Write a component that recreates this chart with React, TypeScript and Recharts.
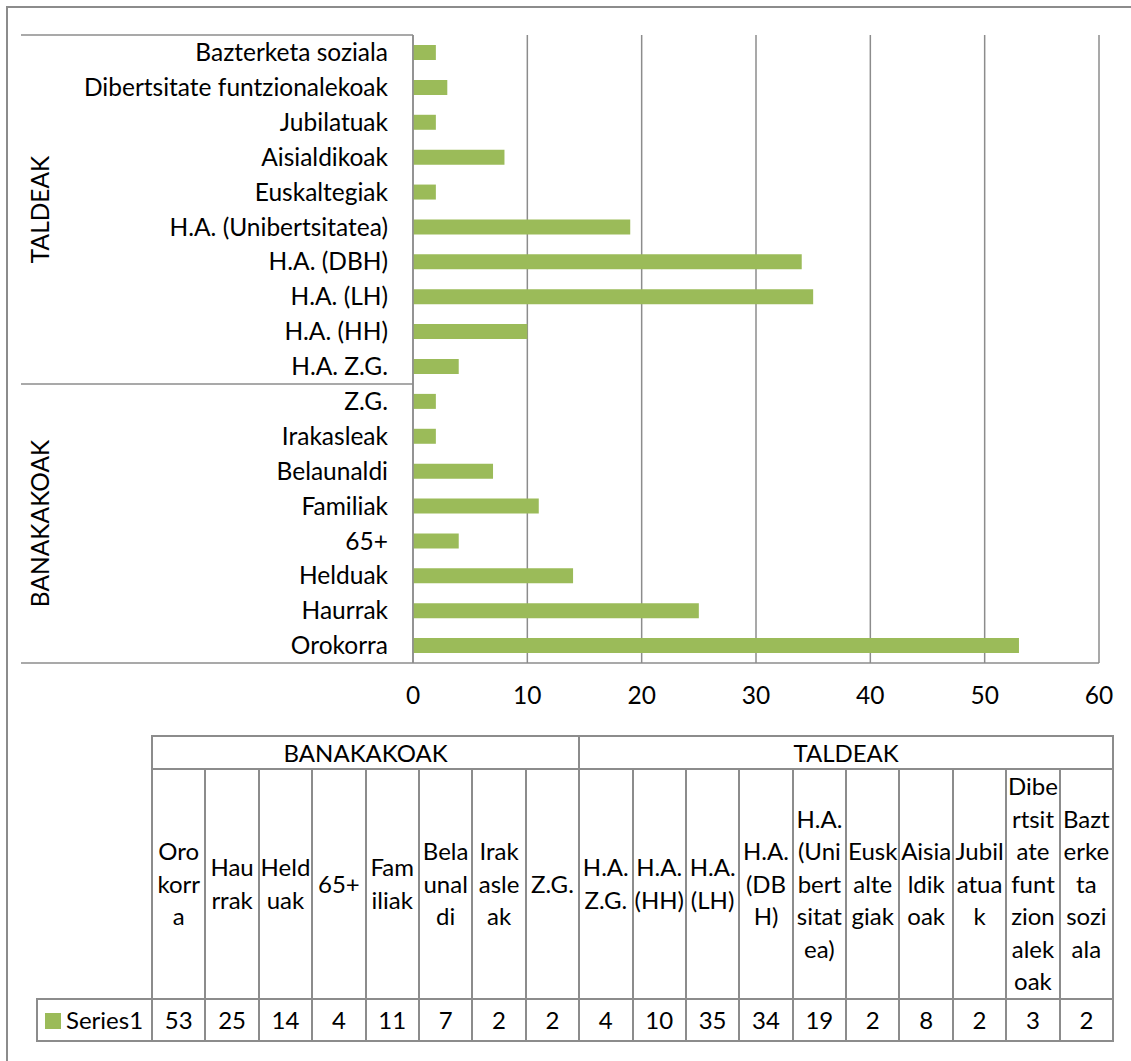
import { BarChart, Bar, XAxis, YAxis, CartesianGrid } from 'recharts'

const categories = [
  'Orokorra',
  'Haurrak',
  'Helduak',
  '65+',
  'Familiak',
  'Belaunaldi',
  'Irakasleak',
  'Z.G.',
  'H.A. Z.G.',
  'H.A. (HH)',
  'H.A. (LH)',
  'H.A. (DBH)',
  'H.A. (Unibertsitatea)',
  'Euskaltegiak',
  'Aisialdikoak',
  'Jubilatuak',
  'Dibertsitate funtzionalekoak',
  'Bazterketa soziala',
]
const values = [53, 25, 14, 4, 11, 7, 2, 2, 4, 10, 35, 34, 19, 2, 8, 2, 3, 2]

const groups = ['BANAKAKOAK', 'TALDEAK']
const groupSizes = [8, 10]

// wrapped header text of the data table, as it reads in the cells
const tableLabels = [
  ['Oro', 'korr', 'a'],
  ['Hau', 'rrak'],
  ['Held', 'uak'],
  ['65+'],
  ['Fam', 'iliak'],
  ['Bela', 'unal', 'di'],
  ['Irak', 'asle', 'ak'],
  ['Z.G.'],
  ['H.A.', 'Z.G.'],
  ['H.A.', '(HH)'],
  ['H.A.', '(LH)'],
  ['H.A.', '(DB', 'H)'],
  ['H.A.', '(Uni', 'bert', 'sitat', 'ea)'],
  ['Eusk', 'alte', 'giak'],
  ['Aisia', 'ldik', 'oak'],
  ['Jubil', 'atua', 'k'],
  ['Dibe', 'rtsit', 'ate', 'funt', 'zion', 'alek', 'oak'],
  ['Bazt', 'erke', 'ta', 'sozi', 'ala'],
]

const xTicks = [0, 10, 20, 30, 40, 50, 60]
const seriesName = 'Series1'

const data = categories.map((name, i) => ({ name, value: values[i] }))

const FONT = 'Lato, "Open Sans", sans-serif'
const GREEN = '#9BBB59'
const LINE = '#8C8C8C'
const AXIS_FS = 24.5
const TABLE_FS = 24

// plot geometry
const plotTop = 35
const plotBottom = 663
const plotLeft = 413
const plotRight = 1099
const chartH = 720
const band = (plotBottom - plotTop) / categories.length

const colW = 53.4
const tableLeft = 151

export default function App() {
  // group boundary, counted from the top (the axis is reversed)
  const sepY = plotTop + groupSizes[1] * band

  return (
    <div
      style={{
        position: 'absolute',
        left: 0,
        top: 0,
        width: 1131,
        height: 1061,
        overflow: 'hidden',
        background: '#fff',
        fontFamily: FONT,
      }}
    >
      <div
        style={{
          position: 'absolute',
          left: 6,
          top: 6,
          width: 1125,
          height: 1055,
          borderLeft: `2px solid ${LINE}`,
          borderTop: `2px solid ${LINE}`,
          boxSizing: 'border-box',
        }}
      />

      <div style={{ position: 'absolute', left: 0, top: 0 }}>
        <BarChart
          width={1131}
          height={chartH}
          layout="vertical"
          data={data}
          margin={{ top: plotTop, right: 1131 - plotRight, left: 20, bottom: 0 }}
        >
          <CartesianGrid horizontal={false} stroke={LINE} strokeWidth={1.5} />
          <XAxis
            type="number"
            domain={[0, 60]}
            ticks={xTicks}
            height={chartH - plotBottom}
            tickLine={false}
            tickSize={0}
            tickMargin={24}
            axisLine={{ stroke: LINE, strokeWidth: 1.5 }}
            tick={{ fontFamily: FONT, fontSize: AXIS_FS, fill: '#000' }}
          />
          <YAxis
            type="category"
            dataKey="name"
            reversed
            width={plotLeft - 20}
            interval={0}
            tickLine={false}
            tickSize={0}
            tickMargin={25}
            axisLine={{ stroke: LINE, strokeWidth: 1.5 }}
            tick={{ fontFamily: FONT, fontSize: AXIS_FS, fill: '#000' }}
          />
          <Bar dataKey="value" fill={GREEN} barSize={15} isAnimationActive={false} />
        </BarChart>
      </div>

      {/* multi-level category axis: group separators and rotated group names */}
      <svg
        width={plotLeft + 2}
        height={chartH}
        style={{ position: 'absolute', left: 0, top: 0 }}
      >
        {[plotTop, sepY, plotBottom].map((y) => (
          <line key={y} x1={21} x2={plotLeft} y1={y} y2={y} stroke={LINE} strokeWidth={1.5} />
        ))}
        <text
          x={39.5}
          y={(plotTop + sepY) / 2}
          transform={`rotate(-90 39.5 ${(plotTop + sepY) / 2})`}
          textAnchor="middle"
          dominantBaseline="central"
          fontFamily={FONT}
          fontSize={AXIS_FS}
        >
          {groups[1]}
        </text>
        <text
          x={39.5}
          y={(sepY + plotBottom) / 2}
          transform={`rotate(-90 39.5 ${(sepY + plotBottom) / 2})`}
          textAnchor="middle"
          dominantBaseline="central"
          fontFamily={FONT}
          fontSize={AXIS_FS}
        >
          {groups[0]}
        </text>
      </svg>

      {/* data table */}
      <table
        style={{
          position: 'absolute',
          left: 36,
          top: 735,
          borderCollapse: 'collapse',
          tableLayout: 'fixed',
          fontFamily: FONT,
          fontSize: TABLE_FS,
          color: '#000',
          textAlign: 'center',
        }}
      >
        <colgroup>
          <col style={{ width: tableLeft - 36 }} />
          {categories.map((c) => (
            <col key={c} style={{ width: colW }} />
          ))}
        </colgroup>
        <tbody>
          <tr style={{ height: 33 }}>
            <td style={{ border: 'none' }} />
            {groups.map((g, i) => (
              <td
                key={g}
                colSpan={groupSizes[i]}
                style={{ border: `2px solid ${LINE}`, padding: 0, lineHeight: '28px' }}
              >
                {g}
              </td>
            ))}
          </tr>
          <tr style={{ height: 228 }}>
            <td style={{ border: 'none' }} />
            {tableLabels.map((lines, i) => (
              <td
                key={categories[i]}
                style={{
                  border: `2px solid ${LINE}`,
                  padding: 0,
                  verticalAlign: 'middle',
                  lineHeight: '32.5px',
                  whiteSpace: 'nowrap',
                  overflow: 'hidden',
                }}
              >
                {lines.map((l, j) => (
                  <div key={j}>{l}</div>
                ))}
              </td>
            ))}
          </tr>
          <tr style={{ height: 42 }}>
            <td
              style={{
                border: `2px solid ${LINE}`,
                padding: 0,
                textAlign: 'left',
                whiteSpace: 'nowrap',
              }}
            >
              <span
                style={{
                  display: 'inline-block',
                  width: 16,
                  height: 16,
                  background: GREEN,
                  marginLeft: 7,
                  marginRight: 5,
                }}
              />
              {seriesName}
            </td>
            {values.map((v, i) => (
              <td key={categories[i]} style={{ border: `2px solid ${LINE}`, padding: 0 }}>
                {v}
              </td>
            ))}
          </tr>
        </tbody>
      </table>
    </div>
  )
}
